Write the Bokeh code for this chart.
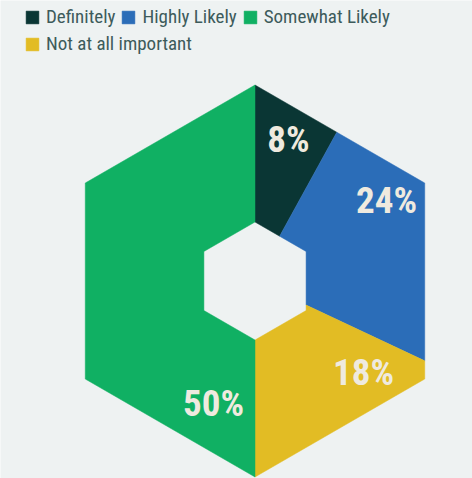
import math
from bokeh.plotting import figure
from bokeh.models import Range1d, Legend, LegendItem, ColumnDataSource
from bokeh.core.properties import value
from bokeh.embed import file_html
from bokeh.resources import INLINE

# ---- data (clockwise from top) ----
categories = ["Definitely", "Highly Likely", "Not at all important", "Somewhat Likely"]
percent = [8, 24, 18, 50]
colors = ["#0a3634", "#2b6db8", "#e2bc24", "#10b063"]
labels = ["8%", "24%", "18%", "50%"]
legend_order = ["Definitely", "Highly Likely", "Somewhat Likely", "Not at all important"]

# ---- layout ----
W, H = 472, 478
CX, CY = 254.5, 280.5          # hexagon centre in frame pixels from top-left
R_OUT, R_IN = 196.0, 59.0
LABEL_POS = [(33.5, 142), (131.5, 81), (108.5, -91.5), (-41.5, -122.5)]
BG = "#eef2f2"
FONT = "Roboto Condensed, DejaVu Sans Condensed, Liberation Sans Narrow, Roboto"

p = figure(width=W, height=H, output_backend="svg", toolbar_location=None,
           x_range=Range1d(-CX, W - CX), y_range=Range1d(-(H - CY), CY),
           min_border=0, outline_line_color=None,
           background_fill_color=BG, border_fill_color=BG)
p.axis.visible = False
p.grid.visible = False


def hex_r(theta, R):
    k = round(theta / 60.0)
    return R * math.cos(math.radians(30)) / math.cos(math.radians(theta - 60 * k))


def ring_slice(a0, a1):
    verts = [90.0 - 60.0 * k for k in range(-1, 9) if a1 < 90.0 - 60.0 * k < a0]
    angs = [a0] + sorted(verts, reverse=True) + [a1]
    xs, ys = [], []
    for a in angs:
        r = hex_r(a, R_OUT)
        xs.append(r * math.cos(math.radians(a)))
        ys.append(r * math.sin(math.radians(a)))
    for a in reversed(angs):
        r = hex_r(a, R_IN)
        xs.append(r * math.cos(math.radians(a)))
        ys.append(r * math.sin(math.radians(a)))
    return xs, ys


renderers = {}
start = 90.0
for cat, v, c in zip(categories, percent, colors):
    end = start - 360.0 * v / 100.0
    xs, ys = ring_slice(start, end)
    renderers[cat] = p.patch(xs, ys, fill_color=c, line_color=c, line_width=0.5)
    start = end

src = ColumnDataSource(dict(x=[q[0] for q in LABEL_POS], y=[q[1] for q in LABEL_POS], t=labels))
p.text(x="x", y="y", text="t", source=src, text_align="center", text_baseline="middle",
       text_font=value(FONT), text_font_style="bold",
       text_font_size="37px", text_color="#efeadf")


def make_legend(names, loc):
    return Legend(items=[LegendItem(label=n, renderers=[renderers[n]]) for n in names],
                  location=loc, orientation="horizontal",
                  padding=0, margin=0, spacing=5, label_standoff=6,
                  glyph_width=16, glyph_height=16, label_height=16,
                  label_text_font=FONT, label_text_font_size="19px",
                  label_text_color="#3d5b5b", label_text_baseline="middle",
                  background_fill_alpha=0, border_line_alpha=0)


p.add_layout(make_legend(legend_order[:3], (24, H - 28)))
p.add_layout(make_legend(legend_order[3:], (24, H - 55)))

open("out.html", "w").write(file_html(p, INLINE))
